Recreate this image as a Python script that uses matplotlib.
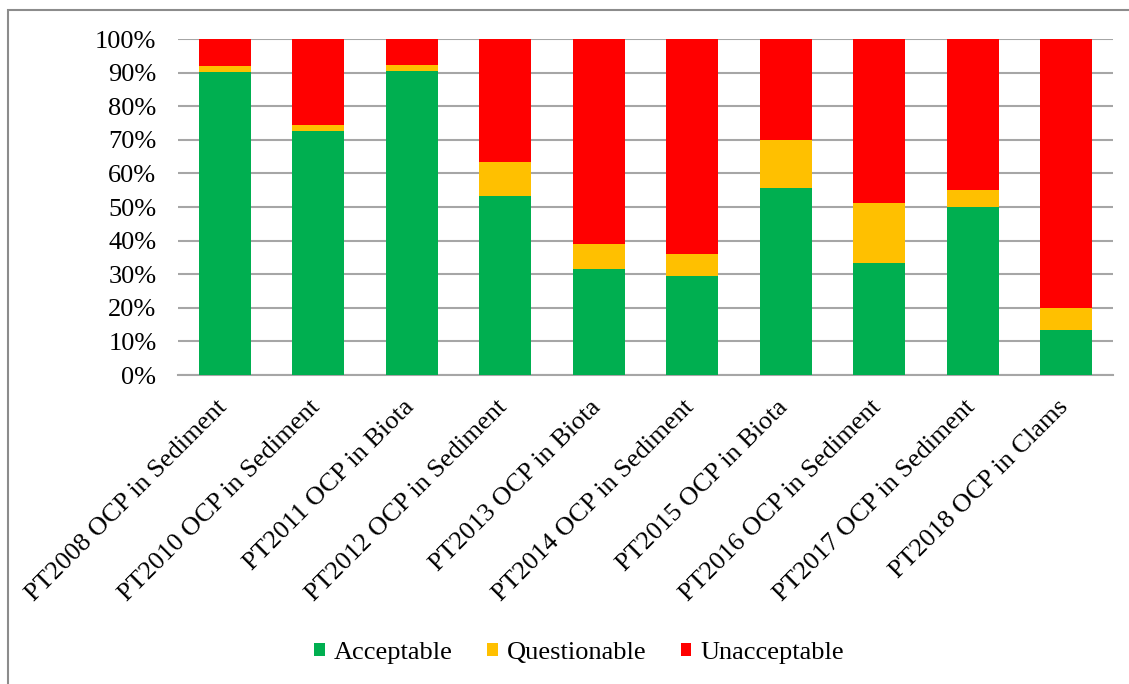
import matplotlib
matplotlib.use("Agg")
import matplotlib.pyplot as plt
import matplotlib.transforms as mtransforms
from matplotlib.patches import Rectangle
import numpy as np

categories = [
    "PT2008 OCP in Sediment",
    "PT2010 OCP in Sediment",
    "PT2011 OCP in Biota",
    "PT2012 OCP in Sediment",
    "PT2013 OCP in Biota",
    "PT2014 OCP in Sediment",
    "PT2015 OCP in Biota",
    "PT2016 OCP in Sediment",
    "PT2017 OCP in Sediment",
    "PT2018 OCP in Clams",
]
acceptable = [90.3, 72.7, 90.4, 53.3, 31.5, 29.6, 55.6, 33.3, 50.0, 13.5]
questionable = [1.6, 1.8, 1.9, 10.0, 7.4, 6.5, 14.3, 18.0, 5.0, 6.5]
unacceptable = [8.1, 25.5, 7.7, 36.7, 61.1, 63.9, 30.1, 48.7, 45.0, 80.0]
series_names = ["Acceptable", "Questionable", "Unacceptable"]
colors = ["#00AF50", "#FFC000", "#FF0000"]
y_ticks = list(range(0, 101, 10))

plt.rcParams["font.family"] = ["Liberation Serif", "DejaVu Serif"]

W, H = 1129, 684
fig = plt.figure(figsize=(W / 100, H / 100), dpi=100)
ax = fig.add_axes([178 / W, (H - 375) / H, 935 / W, 336 / H])

x = np.arange(len(categories))
bottom = np.zeros(len(categories))
for name, vals, c in zip(series_names, [acceptable, questionable, unacceptable], colors):
    ax.bar(x, vals, width=0.556, bottom=bottom, color=c, label=name, zorder=3)
    bottom += np.array(vals)

ax.set_xlim(-0.5, len(categories) - 0.5)
ax.set_ylim(0, 100)
ax.set_yticks(y_ticks)
ax.set_yticklabels([f"{t}%" for t in y_ticks], fontsize=19)
ax.yaxis.grid(True, color="#A6A6A6", linewidth=1.5, zorder=0)
ax.tick_params(axis="y", length=0, pad=15.5)
ax.tick_params(axis="x", length=0, pad=6)
ax.set_xticks(x)
ax.set_xticklabels(categories, rotation=45, ha="right", va="top",
                   rotation_mode="anchor", fontsize=19)
shift = mtransforms.ScaledTranslation(-0.09, -0.13, fig.dpi_scale_trans)
for lbl in ax.get_xticklabels():
    lbl.set_transform(lbl.get_transform() + shift)
for s in ["top", "right", "left"]:
    ax.spines[s].set_visible(False)
ax.spines["bottom"].set_color("#A6A6A6")
ax.spines["bottom"].set_linewidth(1.5)

fig.legend(loc="center", bbox_to_anchor=(0.513, (H - 653) / H), ncol=3,
           frameon=False, fontsize=19, handlelength=0.4, handleheight=0.4,
           handletextpad=0.35, columnspacing=1.3)

# outer chart frame
fig.patches.append(Rectangle((8 / W, -0.01), 1.1, (H - 10) / H + 0.01,
                             transform=fig.transFigure, fill=False,
                             edgecolor="#8C8C8C", linewidth=1.5))

fig.savefig("out.png", dpi=100)
